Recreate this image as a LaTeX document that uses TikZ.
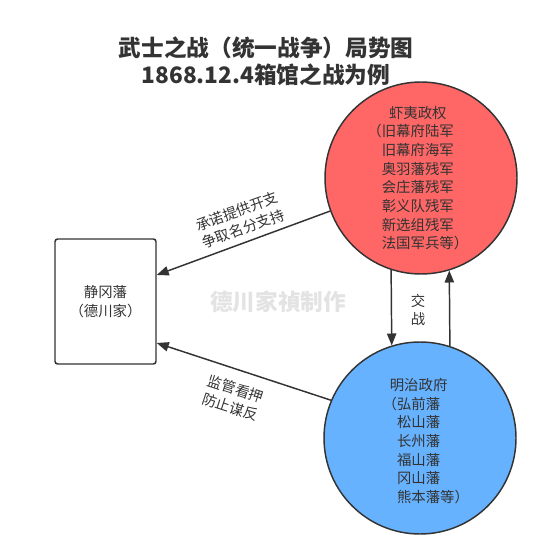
\documentclass[tikz,border=0pt]{standalone}
\usepackage{fontspec}
\setmainfont{Noto Sans CJK SC}
\usepackage{tikz}
\usetikzlibrary{arrows.meta}
\definecolor{inkgray}{HTML}{333333}
\definecolor{ezored}{HTML}{FF6666}
\definecolor{meijiblue}{HTML}{66B2FF}
\definecolor{markgray}{HTML}{E3E3E3}

\begin{document}
\begin{tikzpicture}[x=0.75pt,y=0.75pt,yscale=-1,xscale=1,
    party/.style={circle,draw=inkgray,line width=1.1pt,minimum size=144pt,inner sep=0pt},
    plain/.style={text=inkgray,font=\fontsize{10.8}{14}\selectfont,inner sep=0.75pt},
    link/.style={draw=inkgray,line width=1.1pt,-{Triangle[length=9pt,width=7pt]}}]
        \useasboundingbox (0,0) rectangle (553,559);

        \node [text=inkgray,font=\fontsize{17}{20}\bfseries\selectfont,align=center] (title) at (266,61.5) {武士之战（统一战争）局势图\\1868.12.4箱馆之战为例};
        \node [text=markgray,font=\fontsize{17}{20}\bfseries\selectfont] (mark) at (278,302) {德川家禎制作};

        \node [party,fill=ezored] (ezo) at (421,178) {};
        \node [party,fill=meijiblue] (meiji) at (420,438) {};
        \node [draw=inkgray,line width=1.1pt,rounded corners=2pt,minimum width=75.75pt,minimum height=93.75pt] (shizuoka) at (105.5,301.5) {};

        \node [plain,align=left] (ezotext) at (425,178) {\hspace*{0.5em}虾夷政权\\\llap{（}旧幕府陆军\\旧幕府海军\\奥羽藩残军\\会庄藩残军\\彰义队残军\\新选组残军\\法国军兵等）};
        \node [plain,align=left] (meijitext) at (433,441) {\hspace*{-0.5em}明治政府\\\llap{（}弘前藩\\松山藩\\长州藩\\福山藩\\冈山藩\\熊本藩等）};
        \node [plain,align=center] (shizuokatext) at (shizuoka.center) {静冈藩\\（德川家）};

        \draw [link] (ezo.200) -- (shizuoka.east |- 0,275);
        \draw [link] (meiji.157) -- (shizuoka.east |- 0,343);
        \draw [link] (ezo.252) -- (meiji.107);
        \draw [link] (meiji.72) -- (ezo.287);

        \node [plain,align=center,rotate=20] (fundnote) at (240,220) {承诺提供开支\\争取名分支持};
        \node [plain,align=left,rotate=-18] (guardnote) at (233,398) {监管看押\\防止谋反};
        \node [plain,align=center] (battle) at (418,310) {交\\战};
\end{tikzpicture}
\end{document}
